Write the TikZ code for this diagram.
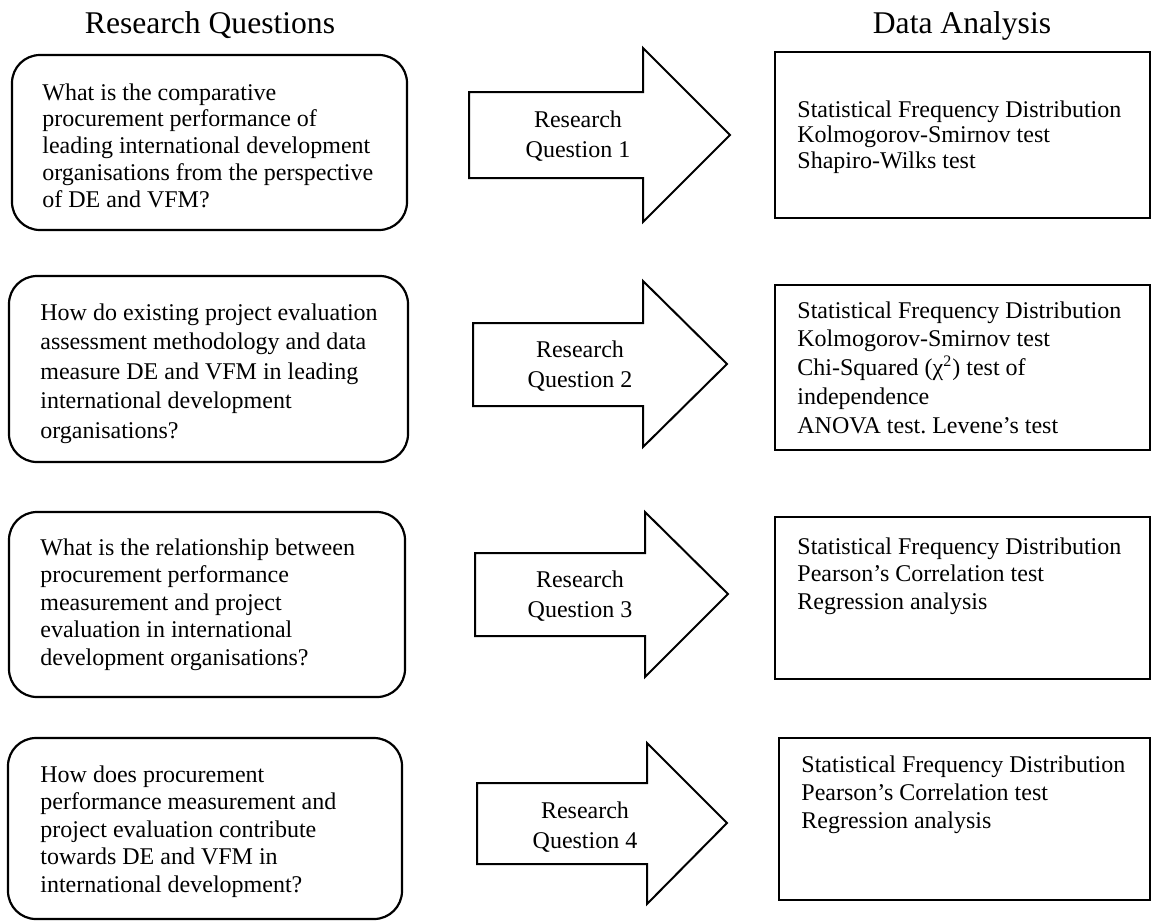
\documentclass[tikz,border=0pt]{standalone}
\usepackage{fontspec}
\setmainfont{Liberation Serif}
\frenchspacing
\begin{document}
\begin{tikzpicture}[x=0.5pt,y=-0.5pt,
  qbox/.style={draw, line width=1.1pt, rounded corners=14pt},
  dabox/.style={draw, line width=1.3pt},
  bigarrow/.style={draw, line width=1pt, line join=miter},
  bodytext/.style={anchor=base west, inner sep=0pt, align=left, font=\fontsize{12}{#1}\selectfont},
  arrowtext/.style={anchor=base, inner sep=0pt, align=center, font=\fontsize{12}{15}\selectfont},
  titletext/.style={anchor=base, inner sep=0pt, font=\fontsize{15.8}{18}\selectfont}]
\useasboundingbox (0,0) rectangle (1152,923);

% titles
\node[titletext] (rqtitle) at (210,33) {Research Questions};
\node[titletext] (datitle) at (962,33) {Data Analysis};

% row 1 (base anchor = baseline of last line)
\draw[qbox] (12,55) rectangle (407,230);
\node[bodytext=13.35] (q1) at (42,207) {What is the comparative\\procurement performance of\\leading international development\\organisations from the perspective\\of DE and VFM?};
\draw[bigarrow] (469,92) -- (643,92) -- (643,48) -- (730,135) -- (643,222) -- (643,178) -- (469,178) -- cycle;
\node[arrowtext] (a1) at (578,157) {Research\\Question 1};
\draw[dabox] (775,52) rectangle (1150,218);
\node[bodytext=12.75] (d1) at (797,168) {Statistical Frequency Distribution\\Kolmogorov-Smirnov test\\Shapiro-Wilks test};

% row 2
\draw[qbox] (9,276) rectangle (408,462);
\node[bodytext=14.75] (q2) at (40,438) {How do existing project evaluation\\assessment methodology and data\\measure DE and VFM in leading\\international development\\organisations?};
\draw[bigarrow] (473,323) -- (643,323) -- (643,281) -- (727,364) -- (643,447) -- (643,406) -- (473,406) -- cycle;
\node[arrowtext] (a2) at (580,387) {Research\\Question 2};
\draw[dabox] (775,285) rectangle (1150,450);
\node[bodytext=14.35] (d2) at (797,433) {Statistical Frequency Distribution\\Kolmogorov-Smirnov test\\Chi-Squared (χ\textsuperscript{2}) test of\\independence\\ANOVA test. Levene’s test};

% row 3
\draw[qbox] (9,512) rectangle (405,697);
\node[bodytext=13.75] (q3) at (40,665) {What is the relationship between\\procurement performance\\measurement and project\\evaluation in international\\development organisations?};
\draw[bigarrow] (475,553) -- (645,553) -- (645,512) -- (728,594) -- (645,677) -- (645,636) -- (475,636) -- cycle;
\node[arrowtext] (a3) at (580,617) {Research\\Question 3};
\draw[dabox] (775,517) rectangle (1150,679);
\node[bodytext=13.75] (d3) at (797,609) {Statistical Frequency Distribution\\Pearson’s Correlation test\\Regression analysis};

% row 4
\draw[qbox] (8,738) rectangle (402,919);
\node[bodytext=13.75] (q4) at (40,892) {How does procurement\\performance measurement and\\project evaluation contribute\\towards DE and VFM in\\international development?};
\draw[bigarrow] (477,783) -- (647,783) -- (647,743) -- (727,823) -- (647,904) -- (647,864) -- (477,864) -- cycle;
\node[arrowtext] (a4) at (585,848) {Research\\Question 4};
\draw[dabox] (779,738) rectangle (1150,900);
\node[bodytext=14] (d4) at (801,828) {Statistical Frequency Distribution\\Pearson’s Correlation test\\Regression analysis};
\end{tikzpicture}
\end{document}
